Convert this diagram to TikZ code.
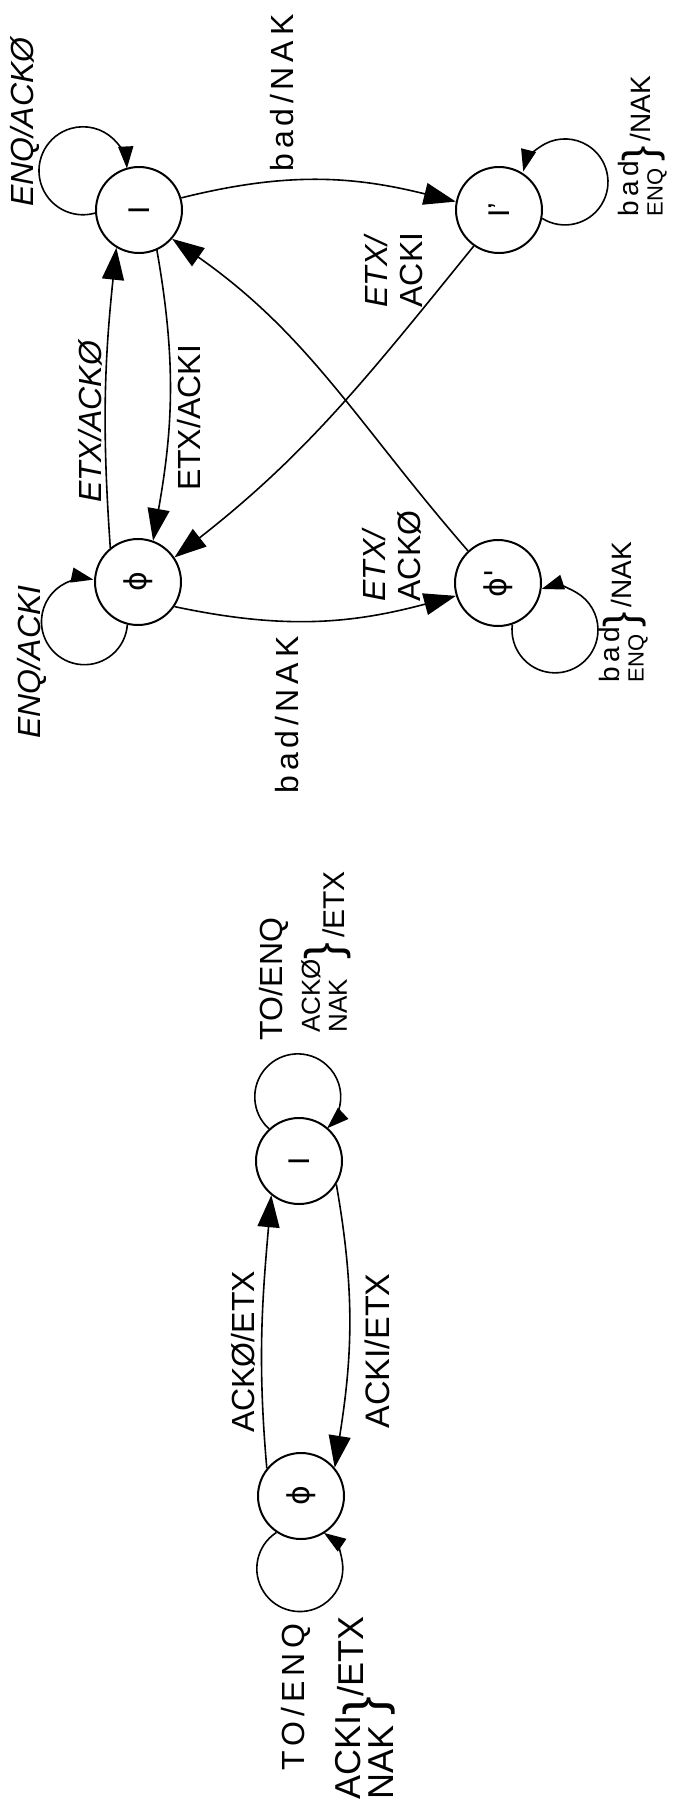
\documentclass[tikz,border=0pt]{standalone}
\usepackage{fontspec}
\setmainfont{Liberation Sans}
\newfontfamily\hws[LetterSpace=15]{Liberation Sans}
\newfontfamily\dvs{DejaVu Sans}
\usepackage{graphicx}
\usetikzlibrary{arrows.meta}
\newcommand{\bigbr}[2]{{\fontsize{#1}{#1}\selectfont\raisebox{#2}{\}}}}
\tikzset{
  state/.style={circle, draw, line width=2pt, minimum size=86pt, inner sep=0pt, font=\fontsize{30}{30}\selectfont},
  edge/.style={line width=1.6pt, -{Triangle[length=32pt,width=22pt]}},
  loopedge/.style={line width=1.6pt, -{Triangle[length=22pt,width=15pt]}},
  lab/.style={rotate=90, inner sep=0pt, align=left, font=\fontsize{32}{34}\selectfont},
  labi/.style={lab, font=\fontsize{32}{34}\selectfont\itshape},
  grp/.style={rotate=90, inner sep=0pt},
}
\begin{document}
\begin{tikzpicture}[x=1pt,y=1pt]
\fill[white] (0,0) rectangle (680,-1802);
\useasboundingbox (0,0) rectangle (680,-1802);
% states
\node[state] (I1)  at (139,-210)  {\rotatebox{90}{I}};
\node[state] (I1p) at (499,-210)  {\rotatebox{90}{I'}};
\node[state] (P1)  at (138,-582)  {\rotatebox{90}{\dvs ϕ}};
\node[state] (P1p) at (498,-583)  {\rotatebox{90}{\dvs ϕ'}};
\node[state] (I2)  at (299,-1161) {\rotatebox{90}{I}};
\node[state] (P2)  at (301,-1496) {\rotatebox{90}{\dvs ϕ}};
% loops
\draw[loopedge] (I1.184)  arc[start angle=286, end angle=3,   radius=44pt];
\draw[loopedge] (I1p.349) arc[start angle=238, end angle=526, radius=43pt];
\draw[loopedge] (P1.256)  arc[start angle=356, end angle=78,  radius=43pt];
\draw[loopedge] (P1p.289) arc[start angle=173, end angle=468, radius=43pt];
\draw[loopedge] (I2.133)  arc[start angle=228, end angle=-47, radius=43pt];
\draw[loopedge] (P2.236)  arc[start angle=123, end angle=416, radius=43pt];
% edges upper
\draw[edge] (I1.16)   to[out=14,in=166]  (I1p.169);
\draw[edge] (P1.-34)  to[out=-12,in=195] (P1p.197);
\draw[edge] (P1.129)  to[out=94,in=264]  (I1.239);
\draw[edge] (I1.294)  to[out=280,in=80]  (P1.70);
\draw[edge] (I1p.235) to[out=231,in=38]  (P1.34);
\draw[edge] (P1p.133) to[out=131,in=-35] (I1.319);
% edges lower
\draw[edge] (P2.141) to[out=95,in=265] (I2.231);
\draw[edge] (I2.328) to[out=280,in=81] (P2.40);
% labels upper
\node[labi] (l1) at (25,-122) {ENQ/ACKØ};
\node[lab, font=\fontsize{32}{34}\hws] (l2) at (282,-93) {bad/NAK};
\node[grp, font=\fontsize{28}{24}\selectfont] (l3) at (644,-146)
  {\begin{tabular}{@{}l@{}}{\hws bad}\\{\fontsize{22}{22}\selectfont ENQ}\end{tabular}\bigbr{46}{-5pt}\,/NAK};
\node[lab, font=\fontsize{32}{35}\selectfont] (l4) at (394,-270) {\itshape ETX/\\ACKI};
\node[labi] (l5) at (90,-422) {ETX/ACKØ};
\node[lab] (l6) at (189,-418) {ETX/ACKI};
\node[labi] (l7) at (32,-662) {ENQ/ACKI};
\node[lab, font=\fontsize{32}{34}\hws] (l8) at (287,-715) {bad/NAK};
\node[lab, font=\fontsize{32}{35}\selectfont] (l9) at (392,-556) {\itshape ETX/\\ACKØ};
\node[grp, font=\fontsize{28}{24}\selectfont] (l10) at (625,-612)
  {\begin{tabular}{@{}l@{}}{\hws bad}\\{\fontsize{22}{22}\selectfont ENQ}\end{tabular}\bigbr{46}{-5pt}\,/NAK};
% labels lower
\node[lab] (l11) at (274,-979) {TO/ENQ};
\node[grp, font=\fontsize{26}{27}\selectfont] (l12) at (328,-952)
  {\begin{tabular}{@{}l@{}}ACKØ\\NAK\end{tabular}\bigbr{50}{-6pt}\,\raisebox{-10pt}{\fontsize{30}{30}\selectfont /ETX}};
\node[lab] (l13) at (243,-1352) {ACKØ/ETX};
\node[lab, font=\fontsize{34}{36}\selectfont] (l14) at (377,-1351) {ACKI/ETX};
\node[lab, font=\fontsize{32}{34}\hws] (l15) at (296,-1697) {TO/ENQ};
\node[grp, font=\fontsize{36}{29}\selectfont] (l16) at (369,-1708)
  {\begin{tabular}{@{}l@{}}ACKI\\NAK\end{tabular}\bigbr{56}{-8pt}\raisebox{12pt}{/ETX}};
\end{tikzpicture}
\end{document}
